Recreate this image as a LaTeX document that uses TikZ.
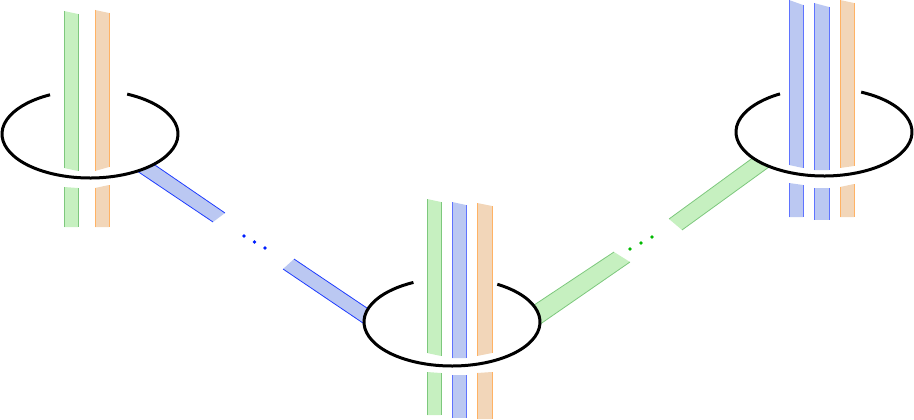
\documentclass[tikz,border=0pt]{standalone}
\definecolor{gfill}{RGB}{198,240,192}
\definecolor{gline}{RGB}{125,200,125}
\definecolor{bfill}{RGB}{187,200,242}
\definecolor{bline}{RGB}{95,115,255}
\definecolor{bdiag}{RGB}{30,60,255}
\definecolor{ofill}{RGB}{242,214,185}
\definecolor{oline}{RGB}{255,178,100}
\definecolor{gdot}{RGB}{0,185,0}
\definecolor{bdot}{RGB}{0,30,255}
\tikzset{
  ring/.style={line width=3pt,black},
  edge/.style={line width=0.8pt},
}
% vertical strip: fill, line, x1, x2, y top left, y top right, y bottom left, y bottom right
\newcommand\vstrip[8]{%
  \fill[#1] (#3,#5)--(#4,#6)--(#4,#8)--(#3,#7)--cycle;
  \draw[#2,edge] (#3,#5)--(#3,#7) (#4,#6)--(#4,#8);}
% diagonal strip: fill, line, A B (edge 1), C D (edge 2)
\newcommand\dstrip[6]{%
  \fill[#1] #3--#4--#6--#5--cycle;
  \draw[#2,edge] #3--#4 #5--#6;}
\begin{document}
\begin{tikzpicture}[x=1pt,y=-1pt]
\useasboundingbox (0,0) rectangle (914,420);
\coordinate (L) at (90,134);
\coordinate (M) at (452,322);
\coordinate (R) at (824,132);
% diagonal strips, clipped outside the rings
\begin{scope}[even odd rule]
  \clip (-10,-10) rectangle (924,430)
    (L) ellipse[x radius=88, y radius=44]
    (M) ellipse[x radius=88, y radius=44]
    (R) ellipse[x radius=88, y radius=44];
  \dstrip{bfill}{bdiag}{(146.7,159.4)}{(225,213)}{(131.7,167.4)}{(213,222)}
  \dstrip{bfill}{bdiag}{(294,259)}{(373.6,312.5)}{(283,269)}{(369.6,327.5)}
  \dstrip{gfill}{gline}{(528.7,308.6)}{(614,252)}{(533.7,328.6)}{(630,262)}
  \dstrip{gfill}{gline}{(669,219)}{(760.3,152.4)}{(682,230)}{(775.3,162.4)}
\end{scope}
% dots
\foreach \p in {(244,236),(254.5,242),(265,248)} \fill[bdot] \p circle[radius=1.8];
\foreach \p in {(630,249),(641,243),(652,237)} \fill[gdot] \p circle[radius=1.8];
% left ring strips
\vstrip{gfill}{gline}{64}{78}{11}{14}{168}{171}
\vstrip{gfill}{gline}{64}{78}{187}{188}{227}{227}
\vstrip{ofill}{oline}{95}{109}{10}{13}{171}{167}
\vstrip{ofill}{oline}{95}{109}{188}{185}{227}{227}
% middle ring strips
\vstrip{gfill}{gline}{427}{441}{199}{202}{353}{356}
\vstrip{gfill}{gline}{427}{441}{372}{373}{415}{415}
\vstrip{bfill}{bline}{452}{466}{202}{205}{358}{358}
\vstrip{bfill}{bline}{452}{466}{375}{375}{418}{418}
\vstrip{ofill}{oline}{477}{492}{203}{206}{356}{353}
\vstrip{ofill}{oline}{477}{492}{373}{372}{419}{419}
% right ring strips
\vstrip{bfill}{bline}{789}{803}{0}{5}{165}{168}
\vstrip{bfill}{bline}{789}{803}{183}{185}{217}{217}
\vstrip{bfill}{bline}{814}{829}{3}{7}{170}{170}
\vstrip{bfill}{bline}{814}{829}{188}{188}{220}{220}
\vstrip{ofill}{oline}{840}{854}{0}{3}{168}{166}
\vstrip{ofill}{oline}{840}{854}{187}{184}{217}{217}
% rings (open at the back where the strips pass)
\draw[ring] ([shift={(-65:88 and 44)}]L) arc[start angle=-65, end angle=243, x radius=88, y radius=44];
\draw[ring] ([shift={(-59:88 and 44)}]M) arc[start angle=-59, end angle=244, x radius=88, y radius=44];
\draw[ring] ([shift={(-65:88 and 44)}]R) arc[start angle=-65, end angle=240, x radius=88, y radius=44];
\end{tikzpicture}
\end{document}
